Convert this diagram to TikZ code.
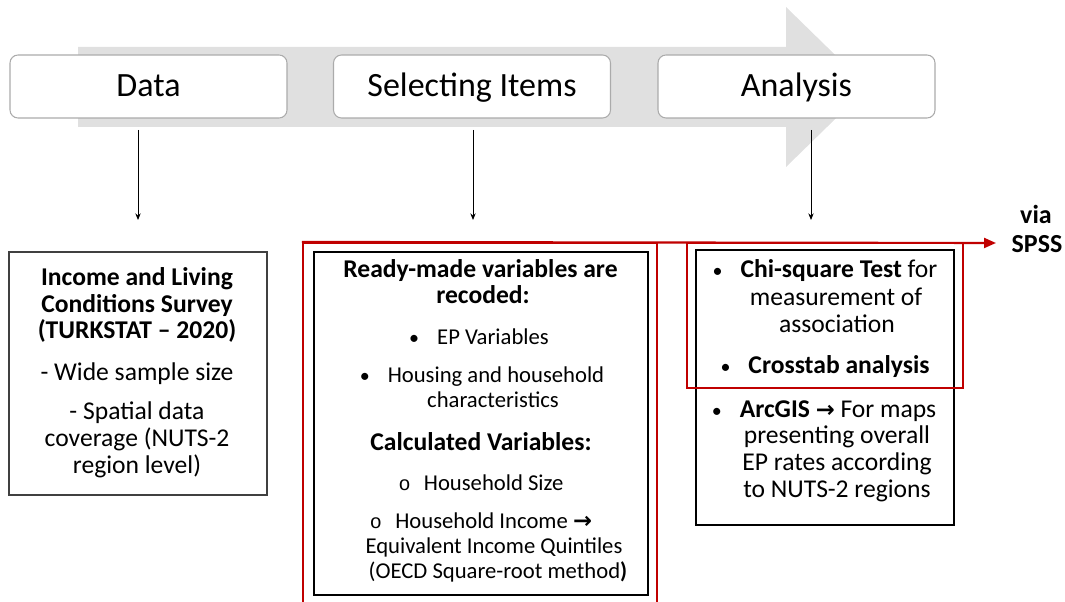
\documentclass[tikz,border=0pt]{standalone}
\usepackage{fontspec}
\setmainfont{Carlito}
\newfontfamily\arrowfont{DejaVu Sans}
\newfontfamily\obfont{Liberation Mono}
\usetikzlibrary{arrows.meta}
\definecolor{redc}{HTML}{C00000}
\definecolor{arrowgray}{HTML}{E0E0E0}
\definecolor{boxgray}{HTML}{ABABAB}
\newcommand{\rarr}{{\arrowfont\bfseries\fontsize{17}{17}\selectfont →}}
\newcommand{\bul}{{\fontsize{15}{15}\selectfont\textbullet}\hspace{13.5pt}}
\newcommand{\obul}{{\obfont\fontsize{15}{15}\selectfont o}\hspace{10pt}}
\begin{document}
\begin{tikzpicture}[x=0.75pt,y=-0.75pt,
  hdr/.style={draw=boxgray, line width=0.8pt, fill=white, rounded corners=6pt,
    minimum width=207.75pt, minimum height=47.25pt, inner sep=0pt,
    font=\fontsize{25.5}{30}\selectfont, text height=15.2pt, text depth=0pt},
  tl/.style={anchor=base, inner sep=0pt, font=\fontsize{19.2}{23}\selectfont},
  tb/.style={tl, font=\fontsize{19.2}{23}\selectfont\bfseries},
  ts/.style={anchor=base, inner sep=0pt, font=\fontsize{17}{20}\selectfont},
  cbox/.style={draw=black, line width=1.4pt, inner sep=0pt},
  rbox/.style={draw=redc, line width=1.6pt, inner sep=0pt},
  darr/.style={draw=black, line width=0.6pt, -{Stealth[length=5pt,width=4pt]}},
  rarrow/.style={draw=redc, line width=1.6pt, -{Triangle[length=9pt,width=7.5pt]}}
]
\useasboundingbox (0,0) rectangle (1065,602);
% big gray process arrow
\fill[arrowgray] (78,47) -- (786,47) -- (786,7) -- (868,87) -- (786,167) -- (786,127) -- (78,127) -- cycle;
% header boxes
\node[hdr] (data) at (148.5,86.5) {Data};
\node[hdr] (sel) at (472,86.5) {Selecting Items};
\node[hdr] (ana) at (796.5,86.5) {Analysis};
% content boxes
\node[draw=black!75, line width=0.8pt, inner sep=0pt, minimum width=193.5pt, minimum height=182.25pt] (box1) at (138,373.5) {};
\node[rbox, minimum width=265.5pt, minimum height=270pt] (redA) at (480,423) {};
\node[cbox, minimum width=250.5pt, minimum height=257.25pt] (box2) at (481,423.5) {};
\node[cbox, minimum width=193.5pt, minimum height=206.25pt] (box3) at (825,387.5) {};
\node[rbox, minimum width=207pt, minimum height=108.75pt] (redB) at (825,315.5) {};
% down arrows
\coordinate (d1s) at (138,130); \coordinate (d1e) at (138,220);
\coordinate (d2s) at (473,130); \coordinate (d2e) at (473,220);
\coordinate (d3s) at (811,130); \coordinate (d3e) at (811,220);
\draw[darr] (d1s) -- (d1e);
\draw[darr] (d2s) -- (d2e);
\draw[darr] (d3s) -- (d3e);
% red arrow
\coordinate (rtip) at (996,243);
\draw[rarrow] (redA.north west) -- (rtip);
\node[tb, font=\fontsize{19.5}{23}\selectfont\bfseries] (via) at (1036,224) {via};
\node[tb, font=\fontsize{19.5}{23}\selectfont\bfseries] (spss) at (1037,253) {SPSS};
% box 1 text
\node[tb] (t11) at (137,286) {Income and Living};
\node[tb] (t12) at (137,312.5) {Conditions Survey};
\node[tb] (t13) at (137,339) {(TURKSTAT – 2020)};
\node[tl] (t14) at (137,381) {- Wide sample size};
\node[tl] (t15) at (137,420) {- Spatial data};
\node[tl] (t16) at (137,447) {coverage (NUTS-2};
\node[tl] (t17) at (137,474) {region level)};
% box 2 text
\node[tb] (t21) at (480.5,278) {Ready-made variables are};
\node[tb] (t22) at (483,304) {recoded:};
\node[ts] (t23) at (479,345) {\bul EP Variables};
\node[ts] (t24) at (482,383) {\bul Housing and household};
\node[ts] (t25) at (493,408) {characteristics};
\node[tb] (t26) at (481,451) {Calculated Variables:};
\node[ts] (t27) at (481,490) {\obul Household Size};
\node[ts] (t28) at (481,528) {\obul Household Income \rarr};
\node[ts] (t29) at (494,553) {Equivalent Income Quintiles};
\node[ts] (t210) at (498,578) {(OECD Square-root method\textbf{)}};
% box 3 text
\node[tl] (t31) at (825,278) {\bul\textbf{Chi-square Test} for};
\node[tl] (t32) at (836,306) {measurement of};
\node[tl] (t33) at (837,333) {association};
\node[tl] (t34) at (825,374) {\bul\textbf{Crosstab analysis}};
\node[tl] (t35) at (824,418) {\bul\textbf{ArcGIS} \rarr{} For maps};
\node[tl] (t36) at (837,444) {presenting overall};
\node[tl] (t37) at (837,471) {EP rates according};
\node[tl] (t38) at (837,498) {to NUTS-2 regions};
\end{tikzpicture}
\end{document}
